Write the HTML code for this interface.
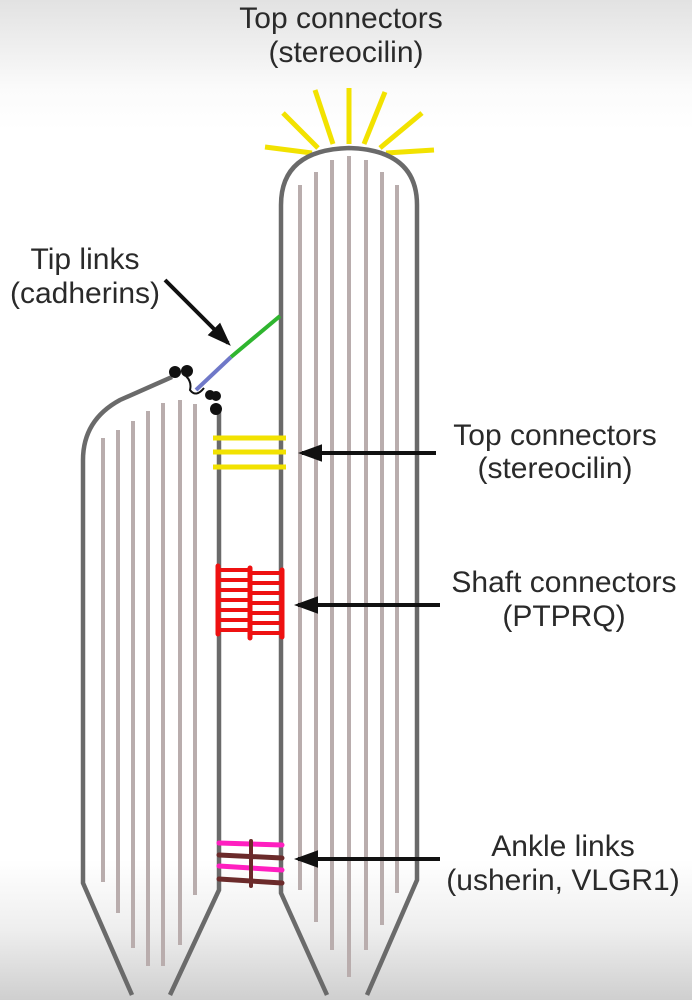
<!DOCTYPE html>
<html><head><style>
html,body{margin:0;padding:0;}
body{width:692px;height:1000px;overflow:hidden;background:linear-gradient(#e2e2e2 0px,#fbfbfb 90px,#fff 130px,#fff 860px,#eeeeee 930px,#cfcfcf 1000px);font-family:"Liberation Sans",sans-serif;}
</style></head><body>
<svg width="692" height="1000" viewBox="0 0 692 1000" xmlns="http://www.w3.org/2000/svg" style="position:absolute;left:0;top:0">
<defs>
<marker id="ah" markerWidth="6" markerHeight="6" refX="5" refY="3" orient="auto" markerUnits="strokeWidth"><path d="M0,0.8 L6,3 L0,5.2 z" fill="#111"/></marker>
</defs>
<g font-size="30" fill="#2a2a2a" text-anchor="middle">
<text x="341" y="28">Top connectors</text>
<text x="346" y="62">(stereocilin)</text>
<text x="85" y="269">Tip links</text>
<text x="85" y="303">(cadherins)</text>
<text x="555" y="445">Top connectors</text>
<text x="555" y="478">(stereocilin)</text>
<text x="564" y="592">Shaft connectors</text>
<text x="564" y="626">(PTPRQ)</text>
<text x="563" y="856">Ankle links</text>
<text x="563" y="890">(usherin, VLGR1)</text>
</g>
<!-- yellow rays -->
<g stroke="#f2e200" stroke-width="5" stroke-linecap="butt">
<line x1="312" y1="153" x2="265" y2="147"/>
<line x1="318" y1="148" x2="283" y2="113"/>
<line x1="333" y1="144" x2="315" y2="90"/>
<line x1="349" y1="144" x2="349" y2="88"/>
<line x1="364" y1="144" x2="385" y2="92"/>
<line x1="380" y1="148" x2="422" y2="113"/>
<line x1="386" y1="153" x2="434" y2="150"/>
</g>
<!-- filaments tall -->
<g stroke="#b9adad" stroke-width="4">
<line x1="300" y1="185" x2="300" y2="890"/>
<line x1="316" y1="172" x2="316" y2="922"/>
<line x1="332" y1="160" x2="332" y2="950"/>
<line x1="349" y1="156" x2="349" y2="977"/>
<line x1="366" y1="160" x2="366" y2="950"/>
<line x1="382" y1="172" x2="382" y2="925"/>
<line x1="397" y1="185" x2="397" y2="893"/>
</g>
<!-- filaments short -->
<g stroke="#b9adad" stroke-width="4">
<line x1="103" y1="438" x2="103" y2="882"/>
<line x1="118" y1="430" x2="118" y2="913"/>
<line x1="133" y1="421" x2="133" y2="948"/>
<line x1="148" y1="411" x2="148" y2="966"/>
<line x1="163" y1="403" x2="163" y2="966"/>
<line x1="180" y1="400" x2="180" y2="945"/>
<line x1="195" y1="404" x2="195" y2="895"/>
</g>
<!-- outlines -->
<g fill="none" stroke="#6a6a6a" stroke-width="4.5">
<path d="M327,995 L281,893 L281,205 Q281,150 349,148 Q417,150 417,205 L417,880 L367,995"/>
<path d="M132,995 L83,883 L83,460 Q83,420 120,400 L172,377"/>
<path d="M219,412 L219,890 L170,995"/>
</g>
<!-- tip link -->
<line x1="280" y1="316" x2="231" y2="357" stroke="#2fb52f" stroke-width="4"/>
<line x1="231" y1="357" x2="196" y2="390" stroke="#6f78c8" stroke-width="4"/>
<path d="M186,376 Q192,382 190,390 Q196,398 204,388" fill="none" stroke="#111" stroke-width="2"/>
<g fill="#111">
<circle cx="175" cy="372" r="6"/><circle cx="187" cy="371" r="6"/>
<circle cx="210" cy="395" r="5"/><circle cx="216" cy="396" r="5"/><circle cx="216" cy="409" r="6"/>
</g>
<line x1="165" y1="280" x2="228" y2="343" stroke="#111" stroke-width="4" marker-end="url(#ah)"/>
<!-- yellow top connectors -->
<g stroke="#f2e200" stroke-width="5">
<line x1="213" y1="438" x2="286" y2="438"/>
<line x1="213" y1="452" x2="286" y2="452"/>
<line x1="213" y1="467" x2="286" y2="467"/>
</g>
<!-- red shaft -->
<g stroke="#ee1111" stroke-width="4" stroke-linecap="round">
<line x1="218" y1="570" x2="250" y2="570"/><line x1="218" y1="580" x2="250" y2="580"/>
<line x1="218" y1="590" x2="250" y2="590"/><line x1="218" y1="600" x2="250" y2="600"/>
<line x1="218" y1="610" x2="250" y2="610"/><line x1="218" y1="620" x2="250" y2="620"/>
<line x1="218" y1="630" x2="250" y2="630"/>
<line x1="250" y1="573" x2="281" y2="573"/><line x1="250" y1="583" x2="281" y2="583"/>
<line x1="250" y1="593" x2="281" y2="593"/><line x1="250" y1="603" x2="281" y2="603"/>
<line x1="250" y1="613" x2="281" y2="613"/><line x1="250" y1="623" x2="281" y2="623"/>
<line x1="250" y1="633" x2="281" y2="633"/>
<line x1="250" y1="568" x2="250" y2="638" stroke-width="5"/>
<line x1="218" y1="566" x2="218" y2="634" stroke-width="5"/>
<line x1="282" y1="570" x2="282" y2="637" stroke-width="5"/>
</g>
<!-- ankle links -->
<g stroke-width="5" stroke-linecap="round">
<line x1="219" y1="843" x2="282" y2="845" stroke="#ff1fc0"/>
<line x1="219" y1="855" x2="282" y2="858" stroke="#6b2a2a"/>
<line x1="219" y1="866" x2="282" y2="870" stroke="#ff1fc0"/>
<line x1="219" y1="879" x2="282" y2="883" stroke="#6b2a2a"/>
<line x1="251" y1="841" x2="251" y2="886" stroke="#6b2a2a" stroke-width="4"/>
</g>
<!-- arrows -->
<g stroke="#111" stroke-width="4">
<line x1="436" y1="453" x2="302" y2="453" marker-end="url(#ah)"/>
<line x1="440" y1="605" x2="298" y2="605" marker-end="url(#ah)"/>
<line x1="440" y1="859" x2="298" y2="859" marker-end="url(#ah)"/>
</g>
</svg>
</body></html>
